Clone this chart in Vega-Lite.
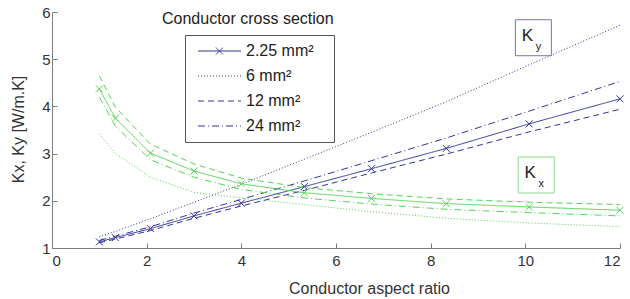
{
  "$schema": "https://vega.github.io/schema/vega-lite/v6.json",
  "width": 568,
  "height": 236,
  "autosize": {"type": "none"},
  "padding": {"left": 52, "top": 12, "right": 10, "bottom": 51},
  "background": "white",
  "config": {
    "font": "Liberation Sans",
    "view": {"stroke": null},
    "axis": {
      "grid": false,
      "domainColor": "#7f7f7f",
      "tickColor": "#7f7f7f",
      "tickSize": -5,
      "labelFontSize": 15,
      "labelColor": "#333333",
      "titleFontSize": 16,
      "titleFontWeight": "normal",
      "titleColor": "#333333"
    }
  },
  "title": {
    "text": "Conductor cross section",
    "anchor": "start",
    "frame": "group",
    "dx": 110,
    "dy": 26,
    "fontSize": 16,
    "fontWeight": "normal",
    "color": "#222222"
  },
  "datasets": {
    "curves": [
      {"c": "Ky", "s": "2.25 mm²", "a": 1, "k": 1.13},
      {"c": "Ky", "s": "2.25 mm²", "a": 1.34, "k": 1.22},
      {"c": "Ky", "s": "2.25 mm²", "a": 2.08, "k": 1.41},
      {"c": "Ky", "s": "2.25 mm²", "a": 3, "k": 1.68},
      {"c": "Ky", "s": "2.25 mm²", "a": 4, "k": 1.95},
      {"c": "Ky", "s": "2.25 mm²", "a": 5.33, "k": 2.3},
      {"c": "Ky", "s": "2.25 mm²", "a": 6.75, "k": 2.68},
      {"c": "Ky", "s": "2.25 mm²", "a": 8.33, "k": 3.11},
      {"c": "Ky", "s": "2.25 mm²", "a": 10.08, "k": 3.63},
      {"c": "Ky", "s": "2.25 mm²", "a": 12, "k": 4.16},
      {"c": "Ky", "s": "6 mm²", "a": 1, "k": 1.24},
      {"c": "Ky", "s": "6 mm²", "a": 1.34, "k": 1.35},
      {"c": "Ky", "s": "6 mm²", "a": 2.08, "k": 1.62},
      {"c": "Ky", "s": "6 mm²", "a": 3, "k": 1.97},
      {"c": "Ky", "s": "6 mm²", "a": 4, "k": 2.35},
      {"c": "Ky", "s": "6 mm²", "a": 5.33, "k": 2.88},
      {"c": "Ky", "s": "6 mm²", "a": 6.75, "k": 3.45},
      {"c": "Ky", "s": "6 mm²", "a": 8.33, "k": 4.1},
      {"c": "Ky", "s": "6 mm²", "a": 10.08, "k": 4.88},
      {"c": "Ky", "s": "6 mm²", "a": 12, "k": 5.72},
      {"c": "Ky", "s": "12 mm²", "a": 1, "k": 1.11},
      {"c": "Ky", "s": "12 mm²", "a": 1.34, "k": 1.19},
      {"c": "Ky", "s": "12 mm²", "a": 2.08, "k": 1.37},
      {"c": "Ky", "s": "12 mm²", "a": 3, "k": 1.63},
      {"c": "Ky", "s": "12 mm²", "a": 4, "k": 1.89},
      {"c": "Ky", "s": "12 mm²", "a": 5.33, "k": 2.22},
      {"c": "Ky", "s": "12 mm²", "a": 6.75, "k": 2.59},
      {"c": "Ky", "s": "12 mm²", "a": 8.33, "k": 2.99},
      {"c": "Ky", "s": "12 mm²", "a": 10.08, "k": 3.46},
      {"c": "Ky", "s": "12 mm²", "a": 12, "k": 3.94},
      {"c": "Ky", "s": "24 mm²", "a": 1, "k": 1.16},
      {"c": "Ky", "s": "24 mm²", "a": 1.34, "k": 1.25},
      {"c": "Ky", "s": "24 mm²", "a": 2.08, "k": 1.45},
      {"c": "Ky", "s": "24 mm²", "a": 3, "k": 1.74},
      {"c": "Ky", "s": "24 mm²", "a": 4, "k": 2.03},
      {"c": "Ky", "s": "24 mm²", "a": 5.33, "k": 2.42},
      {"c": "Ky", "s": "24 mm²", "a": 6.75, "k": 2.85},
      {"c": "Ky", "s": "24 mm²", "a": 8.33, "k": 3.33},
      {"c": "Ky", "s": "24 mm²", "a": 10.08, "k": 3.9},
      {"c": "Ky", "s": "24 mm²", "a": 12, "k": 4.53},
      {"c": "Kx", "s": "2.25 mm²", "a": 1, "k": 4.37},
      {"c": "Kx", "s": "2.25 mm²", "a": 1.34, "k": 3.75},
      {"c": "Kx", "s": "2.25 mm²", "a": 2.08, "k": 3.01},
      {"c": "Kx", "s": "2.25 mm²", "a": 3, "k": 2.63},
      {"c": "Kx", "s": "2.25 mm²", "a": 4, "k": 2.36},
      {"c": "Kx", "s": "2.25 mm²", "a": 5.33, "k": 2.17},
      {"c": "Kx", "s": "2.25 mm²", "a": 6.75, "k": 2.05},
      {"c": "Kx", "s": "2.25 mm²", "a": 8.33, "k": 1.94},
      {"c": "Kx", "s": "2.25 mm²", "a": 10.08, "k": 1.87},
      {"c": "Kx", "s": "2.25 mm²", "a": 12, "k": 1.8},
      {"c": "Kx", "s": "6 mm²", "a": 1, "k": 3.42},
      {"c": "Kx", "s": "6 mm²", "a": 1.34, "k": 3.0},
      {"c": "Kx", "s": "6 mm²", "a": 2.08, "k": 2.5},
      {"c": "Kx", "s": "6 mm²", "a": 3, "k": 2.18},
      {"c": "Kx", "s": "6 mm²", "a": 4, "k": 2.06},
      {"c": "Kx", "s": "6 mm²", "a": 5.33, "k": 1.92},
      {"c": "Kx", "s": "6 mm²", "a": 6.75, "k": 1.77},
      {"c": "Kx", "s": "6 mm²", "a": 8.33, "k": 1.63},
      {"c": "Kx", "s": "6 mm²", "a": 10.08, "k": 1.53},
      {"c": "Kx", "s": "6 mm²", "a": 12, "k": 1.45},
      {"c": "Kx", "s": "12 mm²", "a": 1, "k": 4.65},
      {"c": "Kx", "s": "12 mm²", "a": 1.34, "k": 3.98},
      {"c": "Kx", "s": "12 mm²", "a": 2.08, "k": 3.2},
      {"c": "Kx", "s": "12 mm²", "a": 3, "k": 2.78},
      {"c": "Kx", "s": "12 mm²", "a": 4, "k": 2.48},
      {"c": "Kx", "s": "12 mm²", "a": 5.33, "k": 2.28},
      {"c": "Kx", "s": "12 mm²", "a": 6.75, "k": 2.15},
      {"c": "Kx", "s": "12 mm²", "a": 8.33, "k": 2.04},
      {"c": "Kx", "s": "12 mm²", "a": 10.08, "k": 1.97},
      {"c": "Kx", "s": "12 mm²", "a": 12, "k": 1.92},
      {"c": "Kx", "s": "24 mm²", "a": 1, "k": 4.2},
      {"c": "Kx", "s": "24 mm²", "a": 1.34, "k": 3.58},
      {"c": "Kx", "s": "24 mm²", "a": 2.08, "k": 2.87},
      {"c": "Kx", "s": "24 mm²", "a": 3, "k": 2.5},
      {"c": "Kx", "s": "24 mm²", "a": 4, "k": 2.24},
      {"c": "Kx", "s": "24 mm²", "a": 5.33, "k": 2.06},
      {"c": "Kx", "s": "24 mm²", "a": 6.75, "k": 1.93},
      {"c": "Kx", "s": "24 mm²", "a": 8.33, "k": 1.82},
      {"c": "Kx", "s": "24 mm²", "a": 10.08, "k": 1.75},
      {"c": "Kx", "s": "24 mm²", "a": 12, "k": 1.68}
    ],
    "notes": [
      {"c": "Ky", "sub": "y", "a": 10.17, "k": 5.455},
      {"c": "Kx", "sub": "x", "a": 10.23, "k": 2.547}
    ]
  },
  "layer": [
    {
      "data": {"name": "curves"},
      "mark": {"type": "line", "strokeWidth": 1},
      "encoding": {
        "x": {
          "field": "a", "type": "quantitative",
          "scale": {"domain": [0, 12], "nice": false},
          "axis": {"values": [0, 2, 4, 6, 8, 10, 12], "title": "Conductor aspect ratio", "labelPadding": 10, "titleX": 317, "titleY": 45, "titleBaseline": "alphabetic", "titleAnchor": "middle", "titleAlign": "center"}
        },
        "y": {
          "field": "k", "type": "quantitative",
          "scale": {"domain": [1, 6], "nice": false, "zero": false},
          "axis": {"values": [1, 2, 3, 4, 5, 6], "title": "Kx, Ky [W/m.K]", "labelPadding": 7, "titleX": -29, "titleY": 117, "titleBaseline": "alphabetic", "titleAngle": 270, "titleAlign": "center"}
        },
        "color": {
          "field": "c", "type": "nominal",
          "scale": {"domain": ["Ky", "Kx"], "range": ["#34349a", "#55d455"]},
          "legend": null
        },
        "strokeDash": {
          "field": "s", "type": "nominal",
          "scale": {"domain": ["2.25 mm²", "6 mm²", "12 mm²", "24 mm²"], "range": [[1, 0], [1, 2], [6, 4], [7, 3, 1, 3]]},
          "legend": {
            "orient": "none", "legendX": 133, "legendY": 23,
            "title": "\u00a0", "titleOrient": "right", "titlePadding": 12, "titleFontSize": 16,
            "symbolType": "M-0.6,0L8,0", "symbolSize": 100, "symbolStrokeWidth": 1,
            "symbolStrokeColor": "#34349a", "symbolFillColor": "transparent",
            "labelFontSize": 16, "labelColor": "#222222", "labelOffset": 37,
            "rowPadding": 9, "padding": 8, "strokeColor": "#555555", "fillColor": "white",
            "encode": {
              "symbols": {"update": {"shape": [
                {"test": "datum.value === '2.25 mm²'", "value": "M-0.6,0L8,0M3,-0.7L4.4,0.7M4.4,-0.7L3,0.7"},
                {"value": "M-0.6,0L8,0"}
              ]}}
            }
          }
        }
      }
    },
    {
      "data": {"name": "curves"},
      "transform": [{"filter": "datum.s === '2.25 mm²'"}],
      "mark": {"type": "point", "shape": "M-1,-1L1,1M1,-1L-1,1", "filled": false, "size": 49, "strokeWidth": 1, "opacity": 1},
      "encoding": {
        "x": {"field": "a", "type": "quantitative"},
        "y": {"field": "k", "type": "quantitative"},
        "color": {"field": "c", "type": "nominal", "legend": null}
      }
    },
    {
      "data": {"name": "notes"},
      "mark": {"type": "point", "shape": "square", "filled": false, "size": 1296, "strokeWidth": 1, "opacity": 1},
      "encoding": {
        "x": {"field": "a", "type": "quantitative"},
        "y": {"field": "k", "type": "quantitative"},
        "stroke": {"field": "c", "type": "nominal", "scale": {"domain": ["Ky", "Kx"], "range": ["#7777b2", "#8fdc8f"]}, "legend": null}
      }
    },
    {
      "data": {"name": "notes"},
      "mark": {"type": "text", "text": "K", "fontSize": 17, "dx": -6, "dy": -2, "baseline": "middle", "align": "center", "color": "#222222"},
      "encoding": {
        "x": {"field": "a", "type": "quantitative"},
        "y": {"field": "k", "type": "quantitative"}
      }
    },
    {
      "data": {"name": "notes"},
      "mark": {"type": "text", "fontSize": 11, "dx": 5, "dy": 9, "baseline": "middle", "align": "center", "color": "#222222"},
      "encoding": {
        "x": {"field": "a", "type": "quantitative"},
        "y": {"field": "k", "type": "quantitative"},
        "text": {"field": "sub"}
      }
    }
  ]
}
